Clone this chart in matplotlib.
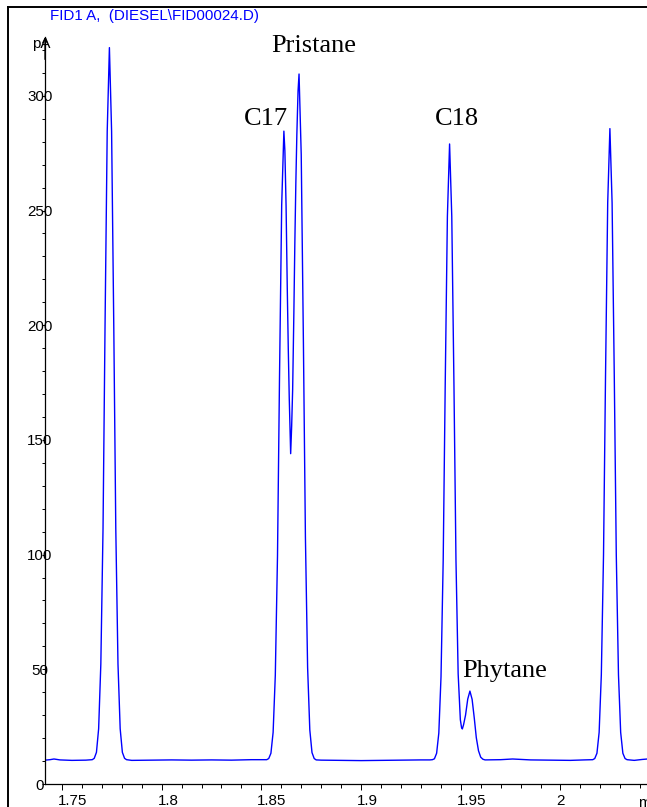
"""
Chromatogram (FID1 A, diesel) with C17 / Pristane / C18 / Phytane labels.
"""

import matplotlib
matplotlib.use('Agg')
import matplotlib.pyplot as plt
from matplotlib.lines import Line2D
from matplotlib.transforms import ScaledTranslation
from matplotlib.ticker import MultipleLocator

# Retention time (min) and detector signal (pA)
rt_min = [
    1.7415, 1.7440, 1.7460, 1.7490, 1.7550, 1.7620,
    1.7652, 1.7662, 1.7673, 1.7684, 1.7695, 1.7706, 1.7716, 1.7727, 1.7738,
    1.7749, 1.7760, 1.7770, 1.7781, 1.7792, 1.7803, 1.7814, 1.7824,
    1.7850, 1.7950, 1.8050, 1.8150, 1.8250, 1.8350, 1.8450, 1.8505,
    1.8527, 1.8537, 1.8548, 1.8559, 1.8570, 1.8581, 1.8591, 1.8602, 1.8613,
    1.8618, 1.8624, 1.8630, 1.8635, 1.8640, 1.8647, 1.8652, 1.8657, 1.8663,
    1.8668, 1.8673, 1.8678, 1.8684, 1.8689,
    1.8700, 1.8711, 1.8721, 1.8732, 1.8743, 1.8754, 1.8765, 1.8775,
    1.8800, 1.8900, 1.9000, 1.9100, 1.9200, 1.9300, 1.9345,
    1.9358, 1.9368, 1.9379, 1.9390, 1.9401, 1.9412, 1.9422, 1.9433, 1.9444,
    1.9455, 1.9466, 1.9476, 1.9487, 1.9498, 1.9504, 1.9508,
    1.9514, 1.9524, 1.9535, 1.9546, 1.9557, 1.9568, 1.9578, 1.9589, 1.9600,
    1.9611, 1.9622,
    1.9700, 1.9760, 1.9850, 1.9950, 2.0050, 2.0120,
    2.0162, 2.0172, 2.0183, 2.0194, 2.0205, 2.0216, 2.0226, 2.0237, 2.0248,
    2.0259, 2.0270, 2.0280, 2.0291, 2.0302, 2.0313, 2.0324, 2.0334,
    2.0370, 2.0410, 2.0450, 2.0600,
]
signal_pa = [
    10.4, 10.6, 10.9, 10.5, 10.3, 10.4,
    10.6, 11.2, 13.8, 24.1, 52.3, 111.3, 198.9, 284.5, 321.0,
    284.5, 198.9, 111.3, 52.3, 24.1, 13.8, 11.2, 10.6,
    10.3, 10.4, 10.5, 10.4, 10.5, 10.4, 10.6, 10.6,
    10.6, 11.1, 13.4, 22.5, 47.4, 99.5, 176.8, 252.4, 284.6,
    276.0, 252.0, 216.0, 190.0, 168.0, 144.0, 156.0, 172.0, 205.0,
    236.0, 262.0, 283.0, 302.0, 309.5,
    274.3, 191.9, 107.6, 50.8, 23.6, 13.7, 11.1, 10.5,
    10.4, 10.3, 10.2, 10.3, 10.4, 10.5, 10.5,
    10.6, 11.0, 13.4, 22.2, 46.7, 97.7, 173.4, 247.4, 279.0,
    247.4, 173.4, 97.7, 48.0, 28.0, 24.6, 24.0,
    25.8, 30.0, 37.0, 40.5, 36.9, 28.6, 20.2, 14.5, 11.7,
    10.8, 10.5,
    10.6, 10.9, 10.5, 10.4, 10.3, 10.5,
    10.6, 11.1, 13.4, 22.5, 47.6, 99.9, 177.5, 253.4, 285.7,
    253.4, 177.5, 99.9, 47.6, 22.5, 13.4, 11.1, 10.6,
    10.3, 10.7, 11.0, 10.5,
]

# Peak names and where their labels sit (time, pA of text baseline)
peak_names = ['C17', 'Pristane', 'C18', 'Phytane']
label_rt = [1.8413, 1.8548, 1.9371, 1.9506]
label_pa = [287.3, 319.1, 287.3, 46.6]

x_ticks = [1.75, 1.80, 1.85, 1.90, 1.95, 2.00]
x_tick_labels = ['1.75', '1.8', '1.85', '1.9', '1.95', '2']
y_ticks = [0, 50, 100, 150, 200, 250, 300]
y_tick_labels = ['0', '50', '100', '150', '200', '250', '300']


def main():
    plt.rcParams['font.family'] = ['Liberation Sans', 'DejaVu Sans']
    W, H, DPI = 647, 807, 100
    fs = 10.9
    fig = plt.figure(figsize=(W / DPI, H / DPI), dpi=DPI)

    # axes: y axis at x=45px, x axis at y=784px, runs off the right edge
    ax_left, ax_bottom, ax_right, ax_top = 45, 784, 700, 37
    ax = fig.add_axes([ax_left / W, (H - ax_bottom) / H,
                       (ax_right - ax_left) / W, (ax_bottom - ax_top) / H])
    ax.set_xlim(1.7415, 1.7415 + (ax_right - ax_left) / 1994)
    ax.set_ylim(0, (ax_bottom - ax_top) / 2.294)

    ax.plot(rt_min, signal_pa, color='#0000ff', linewidth=1.0)

    for spine in ('top', 'right'):
        ax.spines[spine].set_visible(False)
    for spine in ('left', 'bottom'):
        ax.spines[spine].set_linewidth(0.9)

    ax.set_xticks(x_ticks)
    ax.set_xticklabels(x_tick_labels)
    ax.xaxis.set_minor_locator(MultipleLocator(0.01))
    ax.set_yticks(y_ticks)
    ax.set_yticklabels(y_tick_labels)
    ax.yaxis.set_minor_locator(MultipleLocator(10))

    ax.tick_params(axis='x', which='major', length=4.3, width=0.7, pad=2.6,
                   labelsize=fs)
    ax.tick_params(axis='x', which='minor', length=2.9, width=0.7)
    ax.tick_params(axis='y', which='both', length=2.2, width=0.7, pad=1.4,
                   labelsize=fs)

    # first character of each x label sits on its tick
    shift = ScaledTranslation(-4 / DPI, 0, fig.dpi_scale_trans)
    for lbl in ax.get_xticklabels():
        lbl.set_horizontalalignment('left')
        lbl.set_transform(lbl.get_transform() + shift)
    for lbl in ax.get_yticklabels():
        lbl.set_horizontalalignment('center')

    ax.annotate('min', xy=(1.7415 + 593 / 1994, 0), xycoords=('data', 'axes fraction'),
                xytext=(0, -12), textcoords='offset pixels',
                ha='left', va='top', fontsize=fs, annotation_clip=False)

    # arrow on top of the y axis
    ax.annotate('', xy=(0, 1.0), xycoords='axes fraction', xytext=(0, 0.97),
                arrowprops=dict(arrowstyle='->', lw=0.9, color='black',
                                mutation_scale=8, shrinkA=0, shrinkB=0))

    for name, x, y in zip(peak_names, label_rt, label_pa):
        ax.text(x, y, name, fontsize=19, family=['Liberation Serif', 'DejaVu Serif'],
                ha='left', va='baseline')

    fig.text(50 / W, 1 - 20 / H, 'FID1 A,  (DIESEL\\FID00024.D)', color='#0000ff',
             fontsize=fs, ha='left', va='baseline')
    fig.text(41 / W, 1 - 48 / H, 'pA', fontsize=fs, ha='center', va='baseline')

    # outer frame, only its left and top edges fall inside the picture
    fig.add_artist(Line2D([8 / W, 8 / W], [0, 1 - 7 / H], transform=fig.transFigure,
                          color='black', linewidth=1.4))
    fig.add_artist(Line2D([8 / W, 1], [1 - 7 / H, 1 - 7 / H], transform=fig.transFigure,
                          color='black', linewidth=1.4))

    fig.savefig('out.png', dpi=DPI)
    plt.close(fig)


if __name__ == '__main__':
    main()
